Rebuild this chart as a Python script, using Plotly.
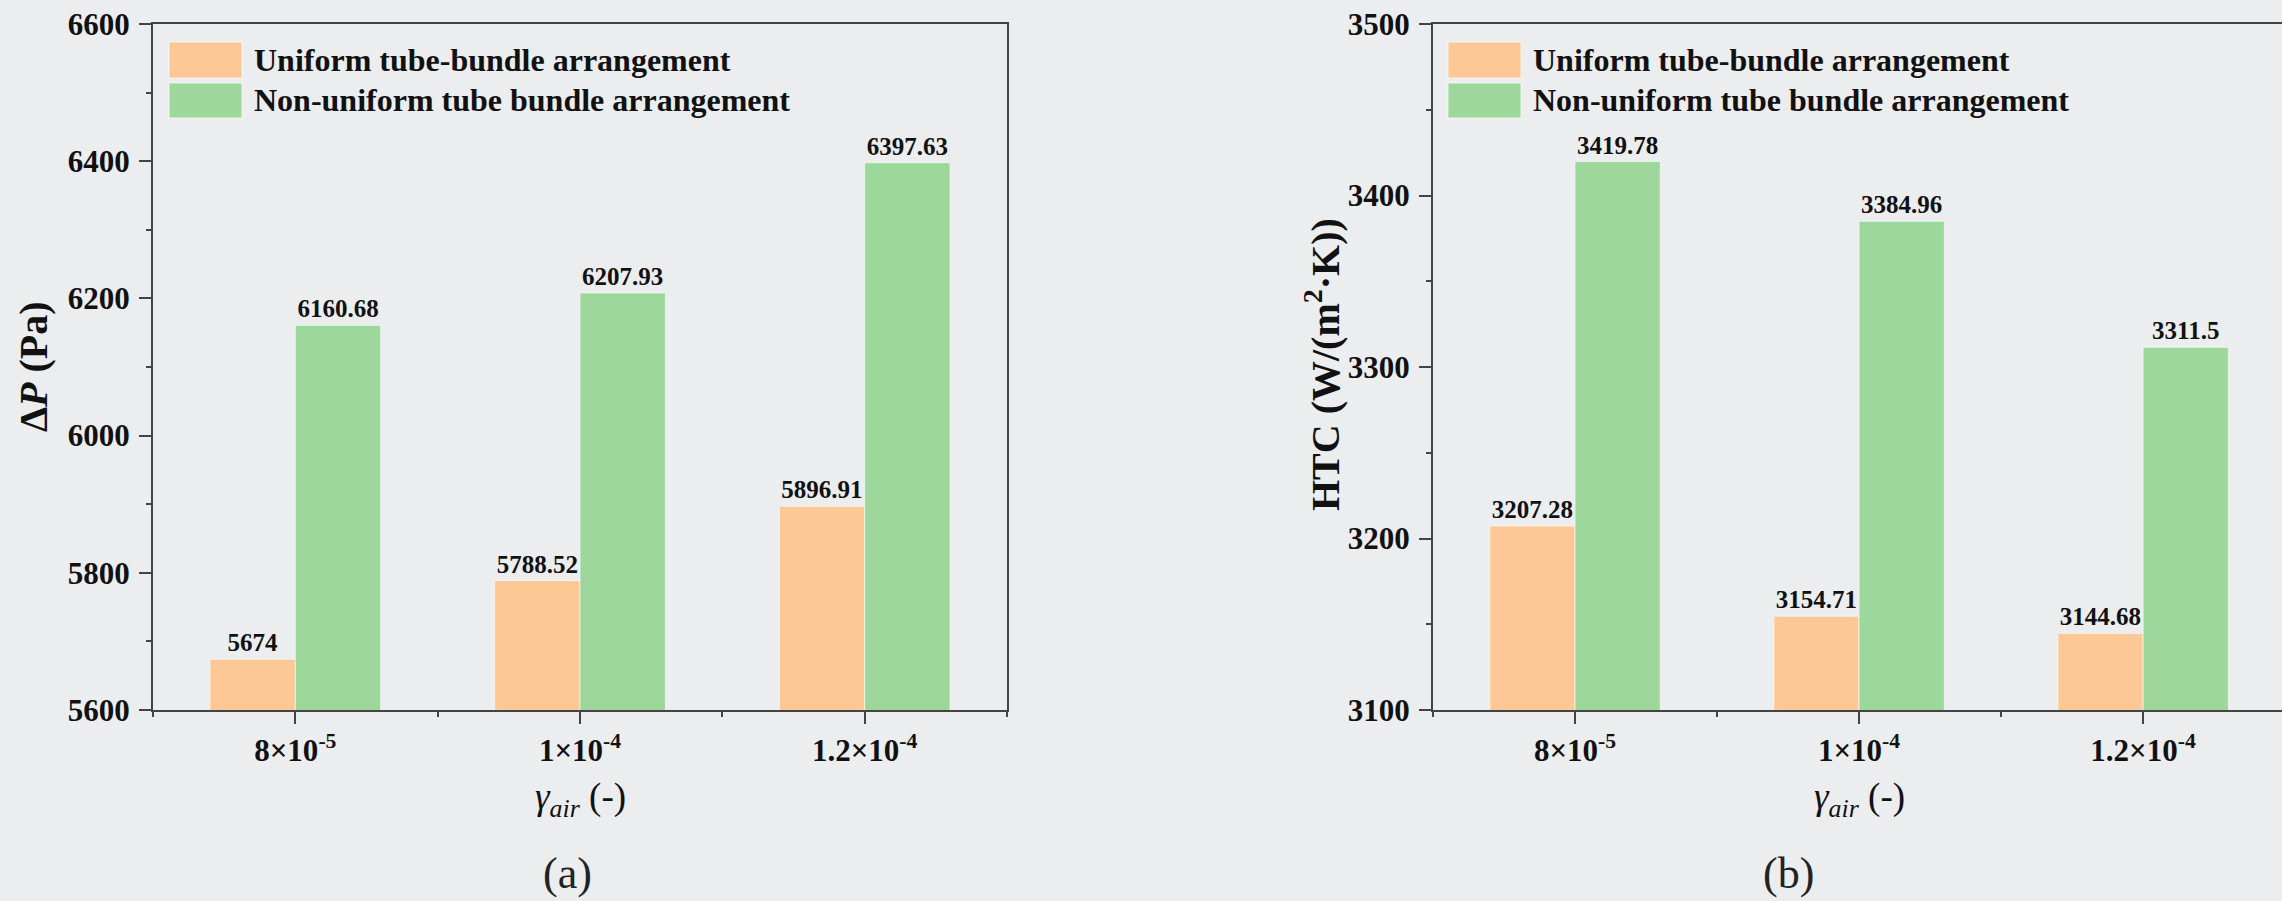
import plotly.graph_objects as go

# ---------------- data ----------------
categories = ["8×10<sup>-5</sup>", "1×10<sup>-4</sup>", "1.2×10<sup>-4</sup>"]
cat_pos = [0, 1, 2]
series_names = ["Uniform tube-bundle arrangement", "Non-uniform tube bundle arrangement"]

dp_uniform = [5674, 5788.52, 5896.91]
dp_nonuniform = [6160.68, 6207.93, 6397.63]
htc_uniform = [3207.28, 3154.71, 3144.68]
htc_nonuniform = [3419.78, 3384.96, 3311.5]

dp_ticks = [5600, 5800, 6000, 6200, 6400, 6600]
htc_ticks = [3100, 3200, 3300, 3400, 3500]

# ---------------- style ----------------
W, H = 2282, 901
ORANGE = "#FCC896"
GREEN = "#9DD79B"
BG = "#ECEDEF"
AX = "#444444"
TXT = "#111111"
SERIF = "Liberation Serif"


def px(x):
    return x / W


def py(y):
    return 1 - y / H


def fmt(v):
    return f"{v:g}"


fig = go.Figure()

bar_font = dict(family=SERIF, size=25, color=TXT, weight="bold")
for ys, color, xa, ya in [
    (dp_uniform, ORANGE, "x", "y"),
    (dp_nonuniform, GREEN, "x", "y"),
    (htc_uniform, ORANGE, "x2", "y2"),
    (htc_nonuniform, GREEN, "x2", "y2"),
]:
    fig.add_trace(go.Bar(
        x=cat_pos, y=ys, xaxis=xa, yaxis=ya,
        marker=dict(color=color, line=dict(color="rgba(255,255,255,0.6)", width=1)),
        text=[fmt(v) for v in ys], textposition="outside",
        textfont=bar_font, constraintext="none", cliponaxis=False,
        showlegend=False, hoverinfo="skip",
    ))

tickfont = dict(family=SERIF, size=31, color=TXT, weight="bold")


def xaxis_cfg(domain, rng, anchor):
    return dict(
        domain=domain, range=rng, anchor=anchor, automargin=False,
        tickmode="array", tickvals=cat_pos, ticktext=categories,
        ticks="outside", ticklen=12, tickwidth=2, tickcolor=AX,
        showline=True, linecolor=AX, linewidth=2, mirror=True,
        showgrid=False, zeroline=False, tickfont=tickfont,
        minor=dict(tick0=-0.5, dtick=1, ticks="outside", ticklen=5,
                   tickwidth=2, tickcolor=AX),
        fixedrange=True,
    )


def yaxis_cfg(rng, tickvals, minor_dt, anchor, mirror):
    return dict(
        domain=[py(710), py(24)], range=rng, anchor=anchor, automargin=False,
        tickmode="array", tickvals=tickvals,
        ticks="outside", ticklen=12, tickwidth=2, tickcolor=AX,
        showline=True, linecolor=AX, linewidth=2, mirror=mirror,
        showgrid=False, zeroline=False, tickfont=tickfont,
        ticklabelstandoff=3,
        minor=dict(dtick=minor_dt, ticks="outside", ticklen=5,
                   tickwidth=2, tickcolor=AX),
        fixedrange=True,
    )


fig.update_layout(
    width=W, height=H,
    margin=dict(l=0, r=0, t=0, b=0, pad=0, autoexpand=False),
    showlegend=False,
    paper_bgcolor=BG, plot_bgcolor="rgba(0,0,0,0)",
    barmode="group", bargap=0.4, bargroupgap=0,
    xaxis=xaxis_cfg([px(153), px(1007)], [-0.5, 2.5], "y"),
    yaxis=yaxis_cfg([5600, 6600], dp_ticks, 100, "x", True),
    xaxis2=xaxis_cfg([px(1433), 1.0], [-0.5, 2.489], "y2"),
    yaxis2=yaxis_cfg([3100, 3500], htc_ticks, 50, "x2", False),
)

annotations = []
shapes = []

# axis titles
ytitle_font = dict(family=SERIF, size=40, color=TXT, weight="bold")
annotations.append(dict(text="Δ<i>P</i> (Pa)", x=px(33), y=py(367), xref="paper", yref="paper",
                        textangle=-90, showarrow=False, font=ytitle_font,
                        xanchor="center", yanchor="middle"))
annotations.append(dict(text="HTC (W/(m<sup>2</sup>·K))", x=px(1322), y=py(365), xref="paper", yref="paper",
                        textangle=-90, showarrow=False, font=ytitle_font,
                        xanchor="center", yanchor="middle"))

xtitle_font = dict(family=SERIF, size=37, color=TXT)
for xc in (581, 1859):
    annotations.append(dict(text="<i>γ<sub>air</sub></i> (-)", x=px(xc), y=py(799), xref="paper", yref="paper",
                            showarrow=False, font=xtitle_font, xanchor="center", yanchor="middle"))

panel_font = dict(family=SERIF, size=44, color="#222222")
for lbl, xc in (("(a)", 567), ("(b)", 1788)):
    annotations.append(dict(text=lbl, x=px(xc), y=py(873), xref="paper", yref="paper",
                            showarrow=False, font=panel_font, xanchor="center", yanchor="middle"))

# legends (one per panel)
leg_font = dict(family=SERIF, size=32, color=TXT, weight="bold")
for sx in (169, 1448):
    for (y0, y1, yc), name, color in zip([(42, 78, 60), (83, 118, 100)], series_names, [ORANGE, GREEN]):
        shapes.append(dict(type="rect", xref="paper", yref="paper",
                           x0=px(sx), x1=px(sx + 73), y0=py(y1), y1=py(y0),
                           fillcolor=color, line=dict(color="rgba(255,255,255,0.7)", width=1)))
        annotations.append(dict(text=name, x=px(sx + 83), y=py(yc), xref="paper", yref="paper",
                                showarrow=False, font=leg_font, xanchor="left", yanchor="middle"))

fig.update_layout(annotations=annotations, shapes=shapes)

fig.write_html("out.html")
